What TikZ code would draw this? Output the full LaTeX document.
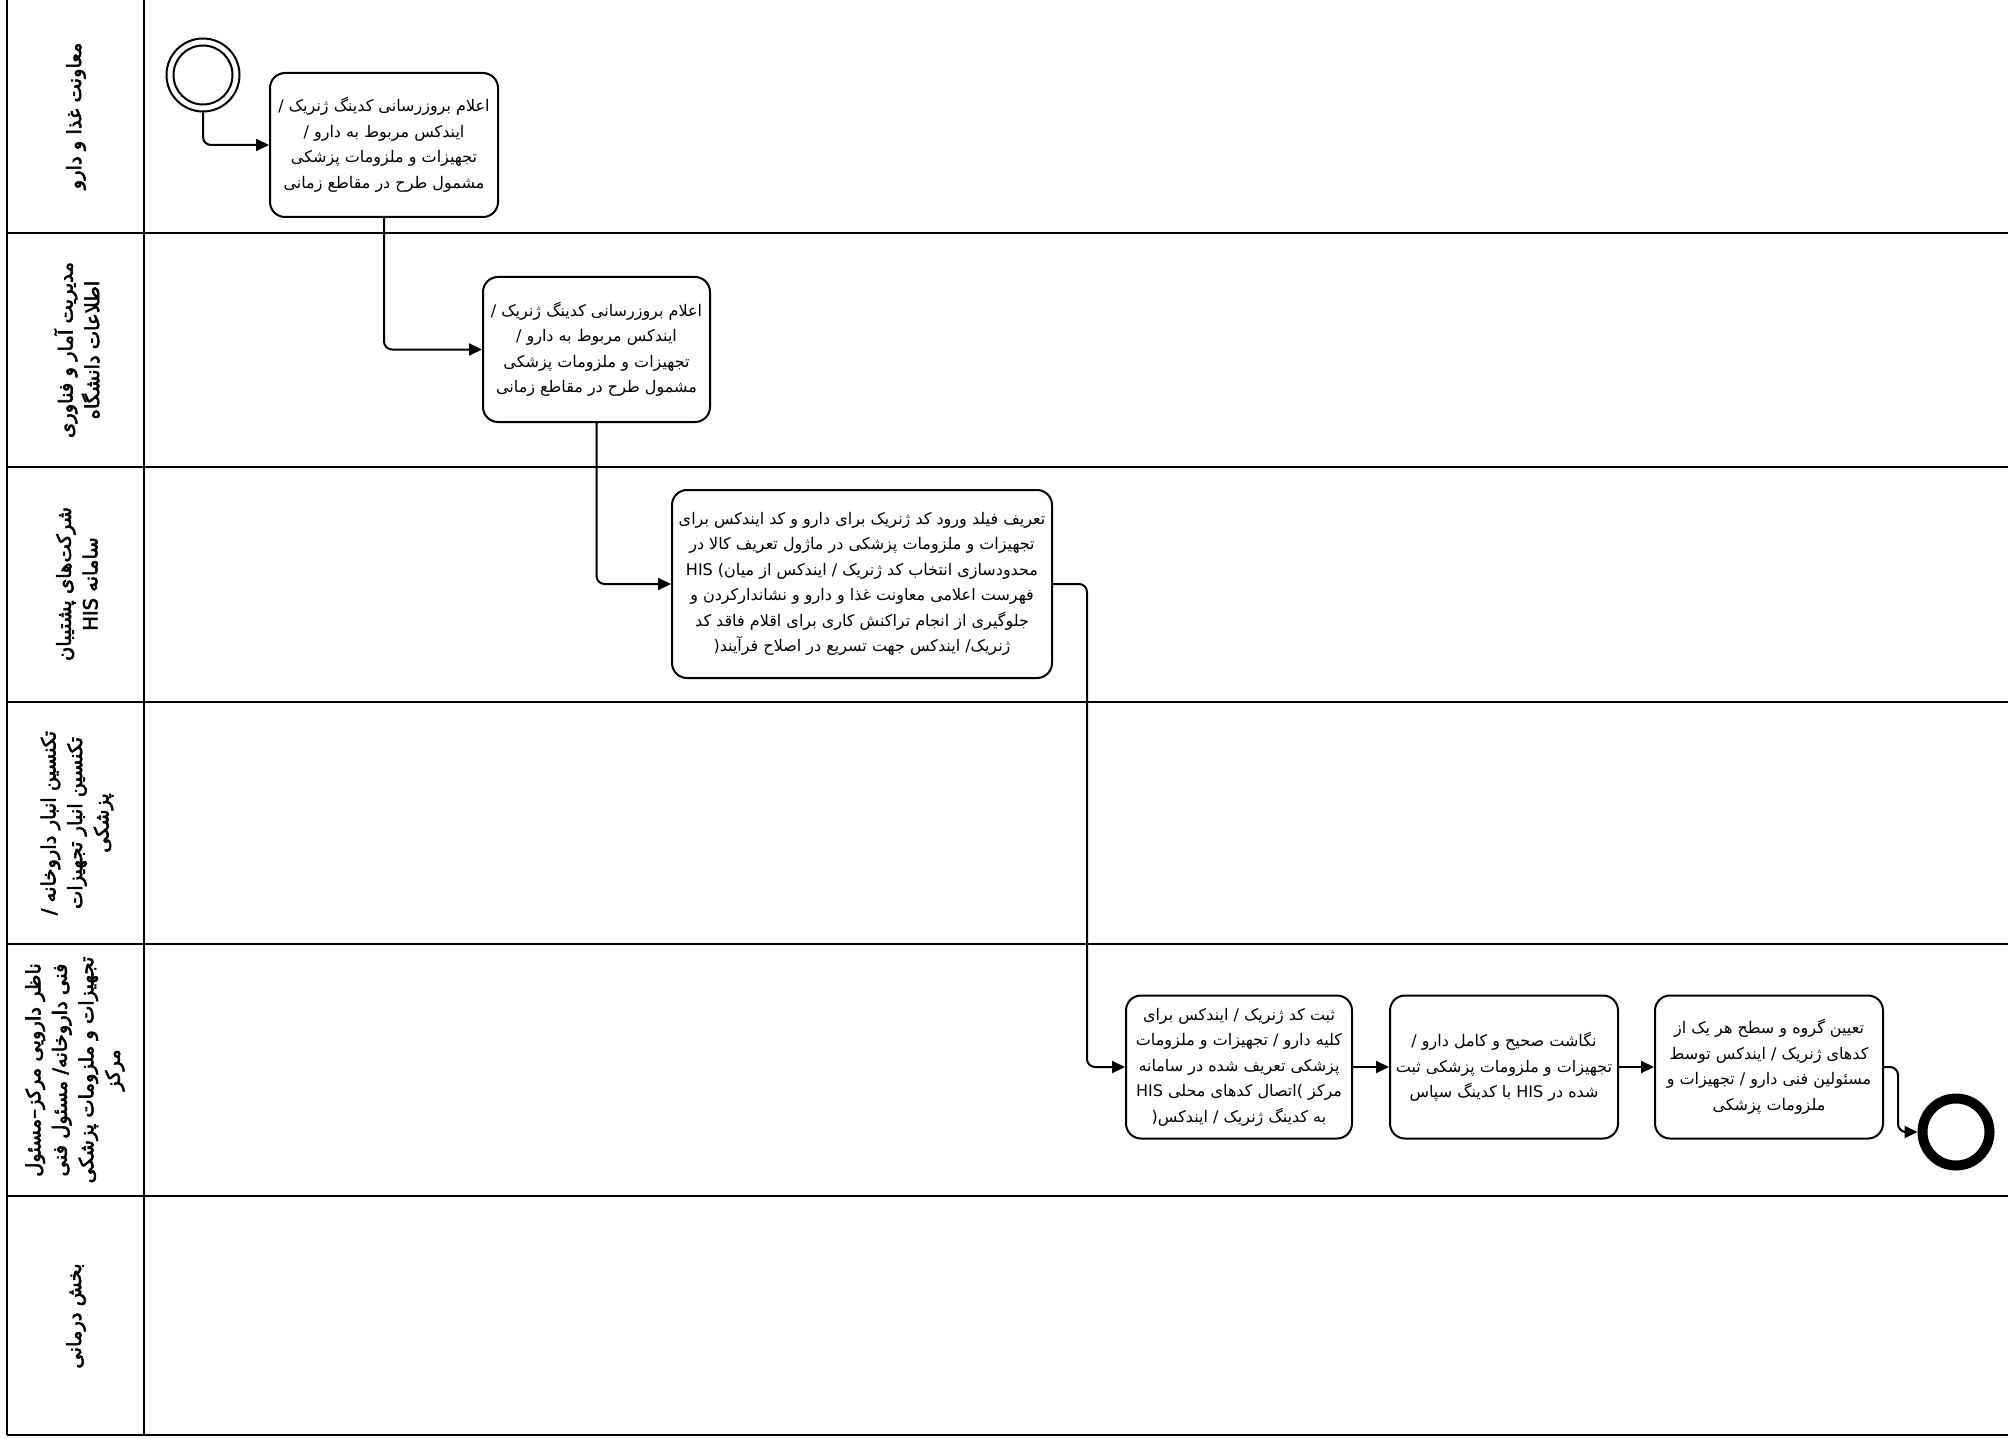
\documentclass[tikz,border=0pt]{standalone}
\usepackage{fontspec}
\usetikzlibrary{arrows.meta,calc}
\TeXXeTstate=1
\newfontfamily\fa[Script=Arabic]{DejaVu Sans}
\newfontfamily\fab[Script=Arabic,FakeBold=3]{DejaVu Sans}
\newcommand\rline[1]{\beginR #1\endR}
\newcommand\lseg[1]{\beginL #1\endL}
\tikzset{
  lane/.style={line width=2.5pt},
  task/.style={draw, line width=2pt, rounded corners=15pt, align=center, inner sep=0pt,
    font=\fa\fontsize{16}{25.5}\selectfont},
  lanelabel/.style={rotate=90, align=center, inner sep=0pt, font=\fab\fontsize{19.5}{26.5}\selectfont},
  flow/.style={line width=2pt, -{Triangle[length=13pt,width=12pt]}, rounded corners=8pt},
  startev/.style={circle, draw, line width=2pt, minimum size=73pt, inner sep=0pt},
  startin/.style={circle, draw, line width=2pt, minimum size=59pt, inner sep=0pt},
  endev/.style={circle, draw, line width=10pt, minimum size=67pt, inner sep=0pt}
}
\begin{document}
\begin{tikzpicture}[x=1pt,y=-1pt]
\fill[white] (0,0) rectangle (2008,1439);
\useasboundingbox (0,0) rectangle (2008,1439);
% pool and lanes
\draw[lane] (7,0) -- (7,1435);
\draw[lane] (144,0) -- (144,1435);
\foreach \yy in {233,467,702,944,1196,1435}{
  \draw[lane] (7,\yy) -- (2008,\yy);
}
% lane labels
\node[lanelabel] (l1) at (76,116) {\rline{معاونت غذا و دارو}};
\node[lanelabel] (l2) at (77,350) {\rline{مدیریت آمار و فناوری}\\\rline{اطلاعات دانشگاه}};
\node[lanelabel] (l3) at (77,584) {\rline{شرکت‌های پشتیبان}\\\rline{سامانه \lseg{HIS}}};
\node[lanelabel] (l4) at (77,823) {\rline{تکنسین انبار داروخانه /}\\\rline{تکنسین انبار تجهیزات}\\\rline{پزشکی}};
\node[lanelabel] (l5) at (75,1070) {\rline{ناظر دارویی مرکز–مسئول}\\\rline{فنی داروخانه/ مسئول فنی}\\\rline{تجهیزات و ملزومات پزشکی}\\\rline{مرکز}};
\node[lanelabel] (l6) at (76,1316) {\rline{بخش درمانی}};
% events
\node[startev] (start) at (203,75) {};
\node[startin] (startin) at (203,75) {};
\node[endev] (end) at (1956,1132) {};
% tasks
\node[task, minimum width=228pt, minimum height=144pt] (t1) at (384,145)
  {\rline{اعلام بروزرسانی کدینگ ژنریک /}\\\rline{ایندکس مربوط به دارو /}\\\rline{تجهیزات و ملزومات پزشکی}\\\rline{مشمول طرح در مقاطع زمانی}};
\node[task, minimum width=227pt, minimum height=145pt] (t2) at (596.5,349.5)
  {\rline{اعلام بروزرسانی کدینگ ژنریک /}\\\rline{ایندکس مربوط به  دارو /}\\\rline{تجهیزات و ملزومات پزشکی}\\\rline{مشمول طرح در مقاطع زمانی}};
\node[task, minimum width=380pt, minimum height=188pt] (t3) at (862,584)
  {\rline{تعریف فیلد ورود کد ژنریک برای دارو و کد ایندکس برای}\\
   \rline{تجهیزات و ملزومات پزشکی در ماژول تعریف کالا در}\\
   HIS )\rline{محدودسازی انتخاب کد ژنریک / ایندکس از میان}\\
   \rline{فهرست اعلامی معاونت غذا و دارو و نشاندارکردن و}\\
   \rline{جلوگیری از انجام تراکنش کاری برای اقلام فاقد کد}\\
   \rline{ژنریک/ ایندکس جهت تسریع در اصلاح فرآیند\lseg{(}}};
\node[task, minimum width=226pt, minimum height=143pt] (t4) at (1239,1067)
  {\rline{ثبت کد ژنریک / ایندکس برای}\\
   \rline{کلیه دارو / تجهیزات و ملزومات}\\
   \rline{پزشکی تعریف شده در سامانه}\\
   HIS \rline{مرکز \lseg{)}اتصال کدهای محلی}\\
   \rline{به کدینگ ژنریک / ایندکس\lseg{(}}};
\node[task, minimum width=228pt, minimum height=143pt] (t5) at (1504,1067)
  {\rline{نگاشت صحیح و کامل دارو /}\\
   \rline{تجهیزات و ملزومات پزشکی ثبت}\\
   \rline{شده در \lseg{HIS} با کدینگ سپاس}};
\node[task, minimum width=228pt, minimum height=143pt] (t6) at (1769,1067)
  {\rline{تعیین گروه و سطح هر یک از}\\
   \rline{کدهای ژنریک / ایندکس توسط}\\
   \rline{مسئولین فنی دارو / تجهیزات و}\\
   \rline{ملزومات پزشکی}};
% flows
\draw[flow] (start.south) |- (t1.west);
\draw[flow] (t1.south) |- (t2.west);
\draw[flow] (t2.south) |- (t3.west);
\draw[flow] (t3.east) -- ++(34,0) |- (t4.west);
\draw[flow] (t4.east) -- (t5.west);
\draw[flow] (t5.east) -- (t6.west);
\draw[flow] (t6.east) -- ++(14,0) |- (end.west);
\end{tikzpicture}
\end{document}
